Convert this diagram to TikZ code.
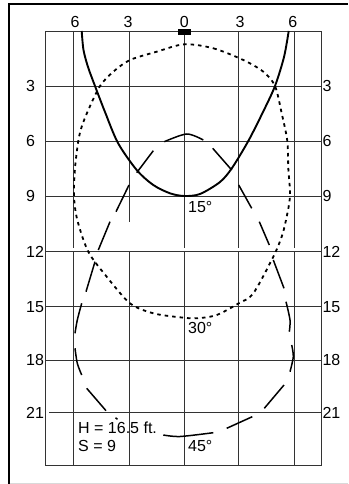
\documentclass[tikz,border=0pt]{standalone}
\usepackage{fontspec}
\setmainfont{Liberation Sans}
\newcommand\labelsize{\fontsize{16}{19}\selectfont}
\tikzset{
  framerule/.style={black, line width=2pt},
  gridrule/.style={black!80, line width=0.9pt},
  scalelabel/.style={inner sep=0pt, font=\labelsize},
  aimsolid/.style={line width=1.9pt},
  aimdotted/.style={line width=1.8pt, dash pattern=on 3.5pt off 4pt},
  aimlong/.style={line width=1.5pt}
}

\begin{document}
\begin{tikzpicture}[x=1pt, y=-1pt]
    \useasboundingbox (0,0) rectangle (348,484);
    \draw[framerule] (8.5,484) -- (8.5,4.3) -- (348,4.3);
    \draw[black!15, line width=1pt] (9.5,483.3) -- (348,483.3);
    % grid
    \draw[gridrule] (45.7,31) rectangle (321,465.5);
    \foreach \y in {86,141,196,251.7,306.7,360}
      \draw[gridrule] (45.7,\y) -- (321,\y);
    \draw[gridrule] (49.3,412.3) -- (321,412.3);
    \foreach \x/\e in {73.3/247.5, 129/221.7, 184.3/247.5, 238.7/247.5, 294/247.5}{
      \draw[gridrule] (\x,31) -- (\x,\e);
      \draw[gridrule] (\x,251.7) -- (\x,465.5);
    }
    \fill (177.7,29.3) rectangle (190.7,35);
    % scale labels
    \foreach \x/\t [count=\i] in {75/6, 128/3, 184.3/0, 240/3, 292.7/6}
      \node[scalelabel, anchor=base] (top\i) at (\x,27.3) {\t};
    \foreach \y/\t in {86/3, 141/6, 196/9, 251.7/12, 306.7/15, 360/18, 412.3/21}{
      \node[scalelabel, anchor=base west] (left\t) at (26,\y+5.7) {\t};
      \node[scalelabel, anchor=base west] (right\t) at (322.3,\y+5.7) {\t};
    }
    % 15 deg
    \draw[aimsolid] plot[smooth] coordinates {(81.7,31) (83.5,50) (88,67) (95,86) (105,112)
      (118,143) (136.7,170) (153.3,185) (170,193.3) (184.3,196) (200,194) (220,182)
      (232,168) (248.3,141) (263,112) (275,86) (284,57) (288.7,31)};
    % 30 deg
    \draw[aimdotted] plot[smooth cycle] coordinates {(184.3,44.3) (213.3,48.3) (243.3,60)
      (263.3,71.7) (275,86) (281.7,113.3) (287.3,141) (288.3,168.3) (290,196) (286,220)
      (281.7,236.7) (273.3,256.7) (253.3,293.3) (238.7,303.3) (216.7,315) (196.7,318.3)
      (180,317.3) (153.3,313.3) (130,303.3) (106.7,276.7) (88.3,251.7) (77.3,220) (74,196)
      (75,168.3) (78.3,141) (81.7,126.7) (88.3,110) (100,86) (113.3,71.7) (130,60)
      (156.7,51.7)};
    % 45 deg, one piece per dash
    \draw[aimlong]
      plot[smooth] coordinates {(164.3,141.7) (186.7,134) (203.3,140)}
      plot[smooth] coordinates {(212.7,148.3) (231.7,170)}
      plot[smooth] coordinates {(238.7,185) (251.7,208.3)}
      plot[smooth] coordinates {(259.3,221.7) (269.3,245)}
      plot[smooth] coordinates {(273.3,260) (284,288.3)}
      plot[smooth] coordinates {(286,301.7) (290,320) (289.3,331.7)}
      plot[smooth] coordinates {(291.7,345) (293.3,356.7) (290,371.7)}
      plot[smooth] coordinates {(284,385) (264.3,408.3)}
      plot[smooth] coordinates {(252.3,416.7) (226.7,428.3)}
      plot[smooth] coordinates {(213.3,432.7) (180,436.5) (163.3,435)}
      plot[smooth] coordinates {(117.5,419.3) (115.5,417.8)}
      plot[smooth] coordinates {(106,410.7) (86.7,388.3)}
      plot[smooth] coordinates {(81.7,375) (77.3,363.3) (75,348.3)}
      plot[smooth] coordinates {(75,333.3) (77.3,320) (81.7,303.3)}
      plot[smooth] coordinates {(86,291.7) (95,261.7)}
      plot[smooth] coordinates {(98.3,250) (110,221.7)}
      plot[smooth] coordinates {(116,211.7) (129,185)}
      plot[smooth] coordinates {(136.7,172.7) (153.3,150.7)};
    \node[scalelabel, anchor=base west] (aim15) at (188,212.3) {15°};
    \node[scalelabel, anchor=base west] (aim30) at (188,333.3) {30°};
    \node[scalelabel, anchor=base west] (aim45) at (188,451.7) {45°};
    \node[scalelabel, anchor=base west] (hinfo) at (78,433.3) {H = 16.5 ft.};
    \node[scalelabel, anchor=base west] (sinfo) at (78,451) {S = 9};
  \end{tikzpicture}
\end{document}
